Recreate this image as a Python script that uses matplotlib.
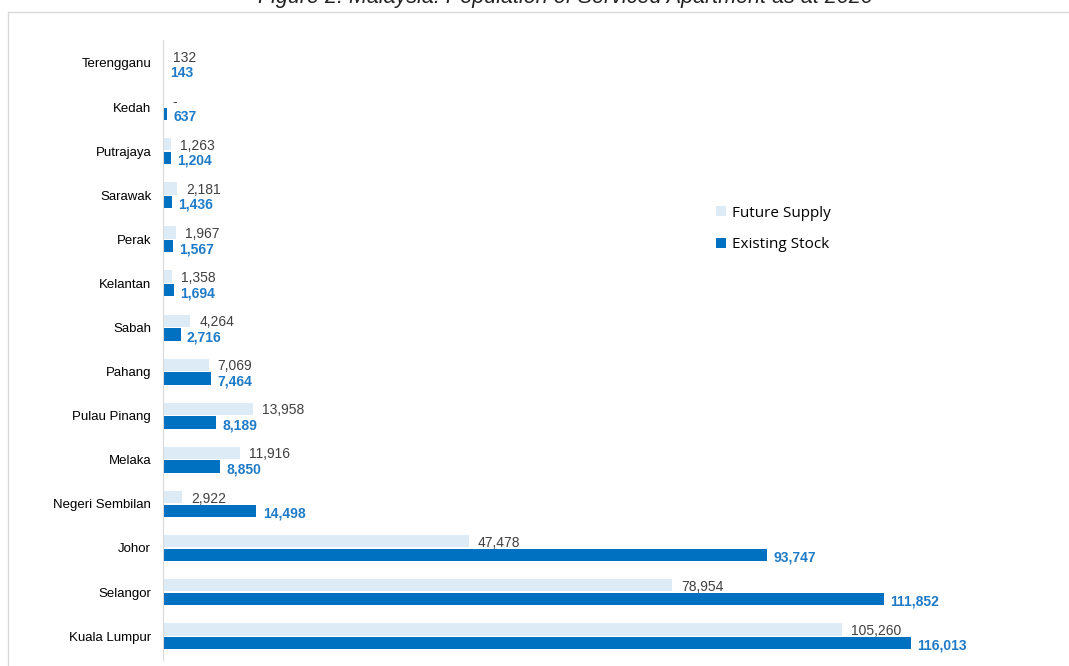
import numpy as np
import matplotlib.pyplot as plt
from matplotlib.lines import Line2D

states = ['Terengganu', 'Kedah', 'Putrajaya', 'Sarawak', 'Perak', 'Kelantan', 'Sabah',
          'Pahang', 'Pulau Pinang', 'Melaka', 'Negeri Sembilan', 'Johor', 'Selangor',
          'Kuala Lumpur']
future_supply = [132, 0, 1263, 2181, 1967, 1358, 4264, 7069, 13958, 11916, 2922,
                 47478, 78954, 105260]
existing_stock = [143, 637, 1204, 1436, 1567, 1694, 2716, 7464, 8189, 8850, 14498,
                  93747, 111852, 116013]

c_future = '#DDEBF7'
c_exist = '#0070C0'
c_exist_lbl = '#1F7BC8'
c_future_lbl = '#404040'

plt.rcParams['font.family'] = ['Liberation Sans', 'DejaVu Sans']

fig = plt.figure(figsize=(10.69, 6.66), dpi=100)
ax = fig.add_axes([163 / 1069, 6 / 666, (1001 - 163) / 1069, (660 - 40) / 666])

n = len(states)
y = np.arange(n)[::-1]
h = 0.28
off = 0.155
ax.barh(y + off, future_supply, height=h, color=c_future, label='Future Supply')
ax.barh(y - off, existing_stock, height=h, color=c_exist, label='Existing Stock')

for yi, fv, ev in zip(y, future_supply, existing_stock):
    ftxt = '-' if fv == 0 else f'{fv:,}'
    ax.annotate(ftxt, (fv, yi + off), xytext=(6.5, 0), textcoords='offset points',
                va='center_baseline', ha='left', fontsize=10, color=c_future_lbl)
    ax.annotate(f'{ev:,}', (ev, yi - off), xytext=(4.5, -1), textcoords='offset points',
                va='center_baseline', ha='left', fontsize=10, color=c_exist_lbl,
                fontweight='bold')

ax.set_xlim(0, 130000)
ax.set_ylim(-0.54, n - 0.48)
ax.set_yticks(y)
ax.set_yticklabels(states, fontsize=9.5)
ax.set_xticks([])
ax.tick_params(axis='y', length=0, pad=8.5)
for s in ['top', 'right', 'bottom']:
    ax.spines[s].set_visible(False)
ax.spines['left'].set_color('#D9D9D9')

ax.legend(loc='upper left', bbox_to_anchor=(0.644, 0.755), frameon=False,
          handlelength=0.6, handleheight=0.6, labelspacing=1.1, handletextpad=0.45,
          prop={'family': ['Open Sans', 'DejaVu Sans'], 'size': 11})

fig.text(565 / 1069, 1 - 3 / 666, 'Figure 2: Malaysia: Population of Serviced Apartment as at 2020',
         ha='center', va='baseline', fontsize=15.5, style='italic', color='#222222')
fig.add_artist(Line2D([8 / 1069, 1], [1 - 12 / 666, 1 - 12 / 666], transform=fig.transFigure,
                      color='#D9D9D9', lw=1))
fig.add_artist(Line2D([8 / 1069, 8 / 1069], [0, 1 - 12 / 666], transform=fig.transFigure,
                      color='#D9D9D9', lw=1))

fig.savefig('out.png', dpi=100)
